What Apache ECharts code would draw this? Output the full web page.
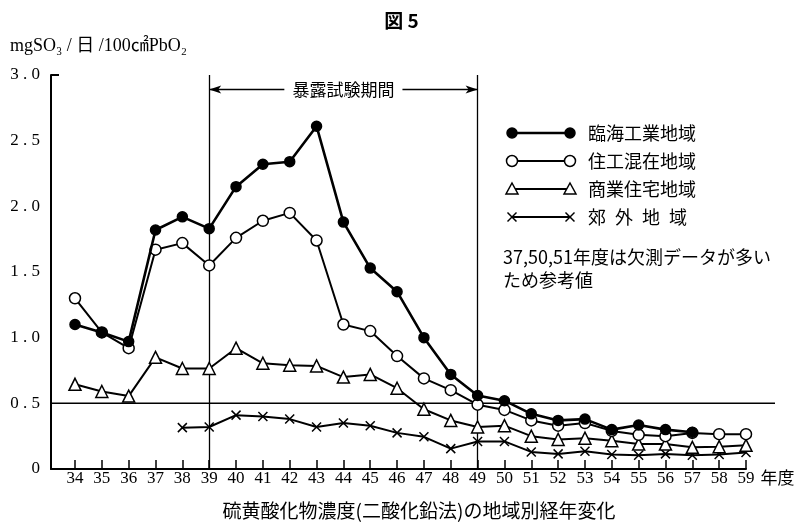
<!DOCTYPE html>
<html>
<head>
<meta charset="utf-8">
<script src="https://cdn.jsdelivr.net/npm/echarts@6/dist/echarts.min.js"></script>
<style>
  html, body { margin: 0; padding: 0; background: #fff; }
  #chart { width: 803px; height: 527px; }
</style>
</head>
<body>
<div id="chart"></div>
<script>
// 年度 (昭和)
var years = [34,35,36,37,38,39,40,41,42,43,44,45,46,47,48,49,50,51,52,53,54,55,56,57,58,59];
var seriesNames = ['臨海工業地域', '住工混在地域', '商業住宅地域', '郊\u2002外\u2002地\u2002域'];
// mgSO3/日/100cm2PbO2
var rinkai = [1.10,1.04,0.97,1.82,1.92,1.83,2.15,2.32,2.34,2.61,1.88,1.53,1.35,1.00,0.72,0.56,0.52,0.42,0.37,0.38,0.30,0.335,0.30,0.28,null,null];
var jukou  = [1.30,1.04,0.92,1.67,1.72,1.55,1.76,1.89,1.95,1.74,1.10,1.05,0.86,0.69,0.60,0.49,0.45,0.37,0.33,0.35,0.29,0.26,0.25,0.275,0.265,0.265];
var shogyo = [0.645,0.59,0.555,0.85,0.765,0.765,0.92,0.805,0.79,0.785,0.70,0.72,0.615,0.455,0.37,0.32,0.33,0.25,0.225,0.235,0.215,0.19,0.19,0.165,0.17,0.18];
var kougai = [null,null,null,null,0.315,0.32,0.41,0.40,0.38,0.32,0.35,0.33,0.275,0.245,0.155,0.21,0.21,0.13,0.115,0.135,0.11,0.105,0.115,0.105,0.11,0.125];
var yTicks = [0, 0.5, 1.0, 1.5, 2.0, 2.5, 3.0];
var periodStart = 39, periodEnd = 49, baseLine = 0.5;

var serif = 'Liberation Serif, DejaVu Serif, Noto Sans CJK JP';
var cjk = 'Noto Sans CJK JP';
var crossPath = 'path://M0,0L10,10M10,0L0,10';

function pairs(vals) {
  return years.map(function (y, i) { return [y, vals[i]]; });
}

var myChart = echarts.init(document.getElementById('chart'));

// 系列ごとのシンボル
var styles = [
  { symbol: 'circle', size: 10, fill: '#000', width: 2.6 },
  { symbol: 'circle', size: 11, fill: '#fff', width: 2 },
  { symbol: 'triangle', size: 12, fill: '#fff', width: 2 },
  { symbol: crossPath, size: 9, fill: '#000', width: 2 }
];
var allData = [rinkai, jukou, shogyo, kougai];

var series = allData.map(function (vals, i) {
  var s = styles[i];
  return {
    name: seriesNames[i],
    type: 'line',
    data: pairs(vals),
    symbol: s.symbol,
    symbolSize: s.size,
    showAllSymbol: true,
    connectNulls: false,
    z: 10 - i,
    lineStyle: { color: '#000', width: s.width },
    itemStyle: { color: s.fill, borderColor: '#000', borderWidth: 1.5 },
    emphasis: { disabled: true },
    animation: false
  };
});

// 暴露試験期間の縦線と矢印
var arrowY = 2.89;
series[0].markLine = {
  silent: true,
  animation: false,
  label: { show: false },
  lineStyle: { color: '#000', width: 1.3, type: 'solid' },
  symbol: ['none', 'none'],
  data: [
    [{ coord: [periodStart, 0] }, { coord: [periodStart, 3] }],
    [{ coord: [periodEnd, 0] }, { coord: [periodEnd, 3] }],
    [{ coord: [periodStart, arrowY], symbol: 'arrow', symbolSize: [6, 12] }, { coord: [41.8, arrowY], symbol: 'none' }],
    [{ coord: [46.2, arrowY], symbol: 'none' }, { coord: [periodEnd, arrowY], symbol: 'arrow', symbolSize: [6, 12] }]
  ]
};

var option = {
  animation: false,
  backgroundColor: '#fff',
  grid: { left: 51, right: 57, top: 75, bottom: 58 },
  xAxis: {
    type: 'value',
    min: 33.106,
    max: 59,
    name: '年度',
    nameLocation: 'end',
    nameGap: 8,
    nameTextStyle: { color: '#000', fontFamily: cjk, fontSize: 17, align: 'left', verticalAlign: 'top', padding: [0, 0, 0, 0] },
    axisLine: { onZero: false, lineStyle: { color: '#000', width: 2 } },
    axisTick: { customValues: years, inside: true, length: 9, lineStyle: { color: '#000', width: 1.5 } },
    axisLabel: { customValues: years, margin: 1, color: '#000', fontFamily: serif, fontSize: 17 },
    splitLine: { show: false }
  },
  yAxis: {
    type: 'value',
    min: 0,
    max: 3,
    interval: 0.5,
    axisLine: { show: true, lineStyle: { color: '#000', width: 2 } },
    axisTick: { customValues: [3], inside: true, length: 8, lineStyle: { color: '#000', width: 2 } },
    axisLabel: {
      customValues: yTicks,
      margin: 11,
      color: '#000',
      fontFamily: serif,
      fontSize: 17,
      formatter: function (v) { return v === 0 ? '0' : v.toFixed(1).replace('.', ' . '); }
    },
    splitLine: { show: false }
  },
  series: series
};
myChart.setOption(option);

// 凡例・注記・タイトル
var p0 = myChart.convertToPixel({ gridIndex: 0 }, [33.106, baseLine]);
var pa = myChart.convertToPixel({ gridIndex: 0 }, [(periodStart + periodEnd) / 2, arrowY]);
var legendY = [133, 161, 189, 217];
var lx1 = 512, lx2 = 570;

function legendSymbol(i, x, y) {
  var s = styles[i];
  var st = { fill: s.fill, stroke: '#000', lineWidth: 1.5 };
  if (i === 2) {
    return { type: 'polygon', shape: { points: [[x, y - 6], [x + 6, y + 5], [x - 6, y + 5]] }, style: st, z: 20 };
  }
  if (i === 3) {
    return { type: 'group', children: [
      { type: 'line', shape: { x1: x - 4.5, y1: y - 4.5, x2: x + 4.5, y2: y + 4.5 }, style: { stroke: '#000', lineWidth: 1.5 }, z: 20 },
      { type: 'line', shape: { x1: x + 4.5, y1: y - 4.5, x2: x - 4.5, y2: y + 4.5 }, style: { stroke: '#000', lineWidth: 1.5 }, z: 20 }
    ] };
  }
  return { type: 'circle', shape: { cx: x, cy: y, r: s.size / 2 }, style: st, z: 20 };
}

var graphics = [
  { type: 'text', left: 'center', top: 11, style: { text: '図 5', fill: '#000', font: 'bold 19px ' + cjk } },
  { type: 'text', x: 10, y: 37, style: { text: 'mgSO₃ / 日 /100㎠PbO₂', fill: '#000', font: '18px ' + serif } },
  { type: 'line', shape: { x1: p0[0], y1: p0[1], x2: 775, y2: p0[1] }, style: { stroke: '#000', lineWidth: 1.5 }, z: 5 },
  { type: 'text', x: pa[0], y: pa[1], style: { text: '暴露試験期間', fill: '#000', font: '17px ' + cjk, align: 'center', verticalAlign: 'middle' } },
  { type: 'text', x: 503, y: 248, style: { text: '37,50,51年度は欠測データが多い', fill: '#000', font: '18px ' + cjk } },
  { type: 'text', x: 503, y: 271, style: { text: 'ため参考値', fill: '#000', font: '18px ' + cjk } },
  { type: 'text', x: 419, y: 501, style: { text: '硫黄酸化物濃度(二酸化鉛法)の地域別経年変化', fill: '#000', font: '19px ' + cjk, align: 'center' } }
];
seriesNames.forEach(function (name, i) {
  var y = legendY[i];
  graphics.push({ type: 'line', shape: { x1: lx1, y1: y, x2: lx2, y2: y }, style: { stroke: '#000', lineWidth: styles[i].width }, z: 19 });
  graphics.push(legendSymbol(i, lx1, y));
  graphics.push(legendSymbol(i, lx2, y));
  graphics.push({ type: 'text', x: 588, y: y, style: { text: name, fill: '#000', font: '18px ' + cjk, verticalAlign: 'middle' } });
});
myChart.setOption({ graphic: graphics });
</script>
</body>
</html>
